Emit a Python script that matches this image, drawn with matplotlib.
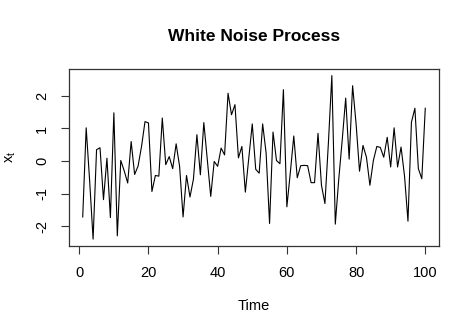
import matplotlib
matplotlib.use("Agg")
import matplotlib.pyplot as plt
import numpy as np

plt.rcParams["font.family"] = ["Liberation Sans", "DejaVu Sans"]

# white noise series, t = 1..100
time = np.arange(1, 101)
x_t = [
    -1.71, 1.02, -0.60, -2.39, 0.35, 0.41, -1.18, 0.09, -1.73, 1.48,
    -2.29, 0.02, -0.30, -0.67, 0.60, -0.41, -0.15, 0.45, 1.21, 1.17,
    -0.93, -0.44, -0.46, 1.32, -0.11, 0.14, -0.23, 0.53, -0.16, -1.71,
    -0.44, -1.10, -0.55, 0.81, -0.42, 1.18, 0.05, -1.08, -0.01, -0.16,
    0.40, 0.19, 2.08, 1.42, 1.73, 0.10, 0.45, -0.95, 0.10, 1.14,
    -0.25, -0.37, 1.14, 0.25, -1.91, 0.89, 0.02, -0.08, 2.19, -1.40,
    -0.35, 0.77, -0.51, -0.14, -0.13, -0.14, -0.66, -0.66, 0.85, -0.74,
    -1.30, 0.55, 2.62, -1.93, -0.55, 0.65, 1.93, 0.06, 2.31, 1.15,
    -0.31, 0.48, 0.12, -0.74, 0.02, 0.45, 0.42, 0.12, 0.73, -0.18,
    1.02, -0.18, 0.43, -0.45, -1.84, 1.19, 1.62, -0.23, -0.54, 1.62,
]
x_ticks = [0, 20, 40, 60, 80, 100]
y_ticks = [-2, -1, 0, 1, 2]

fig = plt.figure(figsize=(4.74, 3.32), dpi=100)
ax = fig.add_axes([0.1456, 0.26, 0.7805, 0.532])
ax.plot(time, x_t, color="black", lw=0.8)

# R-style 4% padding on both axes
xr = time.max() - time.min()
ax.set_xlim(time.min() - 0.04 * xr, time.max() + 0.04 * xr)
yr = max(x_t) - min(x_t)
ax.set_ylim(min(x_t) - 0.04 * yr, max(x_t) + 0.04 * yr)

ax.set_xticks(x_ticks)
ax.set_yticks(y_ticks)
ax.set_yticklabels([str(v) for v in y_ticks], rotation=90, va="center")
ax.tick_params(direction="out", length=5.8, width=0.8, color="#333333",
               labelsize=10.5, pad=8.5)
for sp in ax.spines.values():
    sp.set_color("#333333")
    sp.set_linewidth(0.9)

ax.set_title("White Noise Process", fontsize=12.5, fontweight="bold", pad=20)
ax.set_xlabel("Time", fontsize=10.5, labelpad=14)
ax.set_ylabel(r"$\mathregular{x_t}$", fontsize=10.5, labelpad=12)

fig.savefig("out.png", dpi=100)
